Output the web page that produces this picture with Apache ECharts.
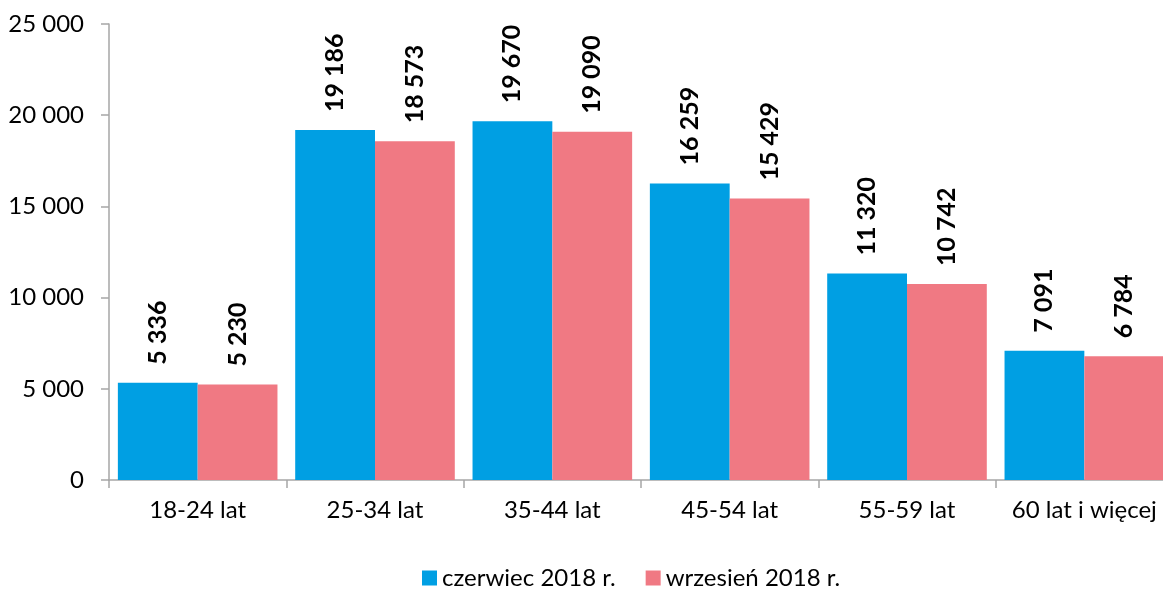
<!DOCTYPE html>
<html>
<head>
<meta charset="utf-8">
<script src="https://cdn.jsdelivr.net/npm/echarts@6/dist/echarts.min.js"></script>
<style>html,body{margin:0;padding:0;background:#fff}#c{width:1163px;height:596px}</style>
</head>
<body>
<div id="c"></div>
<script>
const categories = ['18-24 lat', '25-34 lat', '35-44 lat', '45-54 lat', '55-59 lat', '60 lat i więcej'];
const seriesNames = ['czerwiec 2018 r.', 'wrzesień 2018 r.'];
const juneValues = [5336, 19186, 19670, 16259, 11320, 7091];
const septValues = [5230, 18573, 19090, 15429, 10742, 6784];
const colors = ['#009FE3', '#F07983'];

function fmt(v) {
  return String(v).replace(/\B(?=(\d{3})+(?!\d))/g, ' ');
}
const font = 'Lato, "Open Sans", sans-serif';
const chart = echarts.init(document.getElementById('c'));
const labelCfg = {
  show: true, position: 'top', rotate: 90, align: 'left', verticalAlign: 'middle',
  distance: 18, fontFamily: font, fontSize: 25, fontWeight: 'bold', color: '#000',
  formatter: p => fmt(p.value)
};
chart.setOption({
  animation: false,
  grid: { left: 109, top: 24, bottom: 116, width: 1064, containLabel: false, outerBoundsMode: 'none' },
  legend: {
    bottom: 1, left: 417, icon: 'rect', itemWidth: 15, itemHeight: 15, itemGap: 30,
    textStyle: { fontFamily: font, fontSize: 24, color: '#000' },
    data: seriesNames
  },
  xAxis: {
    type: 'category', data: categories,
    axisLine: { lineStyle: { color: '#a6a6a6', width: 1.5 } },
    axisTick: { show: true, length: 8, lineStyle: { color: '#a6a6a6', width: 1.5 } },
    axisLabel: { fontFamily: font, fontSize: 24, color: '#000', margin: 18, interval: 0, hideOverlap: false }
  },
  yAxis: {
    type: 'value', min: 0, max: 25000, interval: 5000,
    axisLine: { show: true, lineStyle: { color: '#a6a6a6', width: 1.5 } },
    axisTick: { show: true, length: 8, lineStyle: { color: '#a6a6a6', width: 1.5 } },
    splitLine: { show: false },
    axisLabel: { fontFamily: font, fontSize: 24, color: '#000', margin: 25, formatter: v => fmt(v) }
  },
  series: [
    { name: seriesNames[0], type: 'bar', data: juneValues, barGap: '0%', barCategoryGap: '10%',
      itemStyle: { color: colors[0] }, label: labelCfg },
    { name: seriesNames[1], type: 'bar', data: septValues, barGap: '0%', barCategoryGap: '10%',
      itemStyle: { color: colors[1] }, label: labelCfg }
  ]
});
</script>
</body>
</html>
